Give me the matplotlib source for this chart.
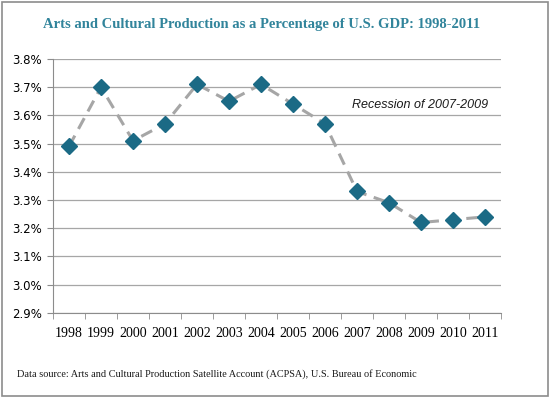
import matplotlib
matplotlib.use("Agg")
import matplotlib.pyplot as plt
import numpy as np
from matplotlib.patches import Rectangle
from matplotlib.ticker import FuncFormatter, FixedLocator

years = ["1998", "1999", "2000", "2001", "2002", "2003", "2004",
         "2005", "2006", "2007", "2008", "2009", "2010", "2011"]
gdp_share = [3.49, 3.70, 3.51, 3.57, 3.71, 3.65, 3.71,
             3.64, 3.57, 3.33, 3.29, 3.22, 3.23, 3.24]
y_ticks = [2.9, 3.0, 3.1, 3.2, 3.3, 3.4, 3.5, 3.6, 3.7, 3.8]

fig = plt.figure(figsize=(5.5, 3.98), dpi=100)
fig.patches.append(Rectangle((0.004, 0.004), 0.992, 0.992, transform=fig.transFigure,
                             fill=False, edgecolor="#8c8c8c", linewidth=1.2))

ax = fig.add_axes([0.0964, 0.2143, 0.8146, 0.6375])
x = np.arange(len(years))
ax.plot(x, gdp_share, linestyle=(0, (4, 2.5)), color="#a6a6a6", linewidth=2.2, zorder=2)
ax.plot(x, gdp_share, linestyle="none", marker="D", markersize=8.5,
        color="#1b6a85", markeredgecolor="#1b6a85", zorder=3)

ax.set_xlim(-0.5, len(years) - 0.5)
ax.set_ylim(2.9, 3.8)
ax.set_yticks(y_ticks)
ax.yaxis.set_major_formatter(FuncFormatter(lambda v, p: "%.1f%%" % v))
ax.grid(axis="y", color="#a6a6a6", linewidth=0.9)
ax.set_axisbelow(True)

ax.set_xticks(x)
ax.set_xticklabels(years, fontsize=10, family="Liberation Serif")
ax.xaxis.set_minor_locator(FixedLocator(np.arange(-0.5, len(years), 1.0)))
ax.tick_params(axis="x", which="major", length=0, pad=10)
ax.tick_params(axis="x", which="minor", length=4, color="#8c8c8c")
ax.tick_params(axis="y", length=4, color="#8c8c8c", labelsize=8.5, pad=4)

for s in ["top", "right"]:
    ax.spines[s].set_visible(False)
for s in ["left", "bottom"]:
    ax.spines[s].set_color("#8c8c8c")

ax.text(0.971, 0.82, "Recession of 2007-2009", transform=ax.transAxes,
        ha="right", va="center", fontsize=9, style="italic", color="#1a1a1a",
        family="Liberation Sans")

fig.text(0.475, 0.938, "Arts and Cultural Production as a Percentage of U.S. GDP: 1998-2011",
         ha="center", va="center", fontsize=10.5, fontweight="bold",
         color="#31849b", family="Liberation Serif")
fig.text(0.031, 0.06, "Data source: Arts and Cultural Production Satellite Account (ACPSA), U.S. Bureau of Economic",
         ha="left", va="center", fontsize=7.4, color="#1a1a1a", family="Liberation Serif")

fig.savefig("out.png", dpi=100)
